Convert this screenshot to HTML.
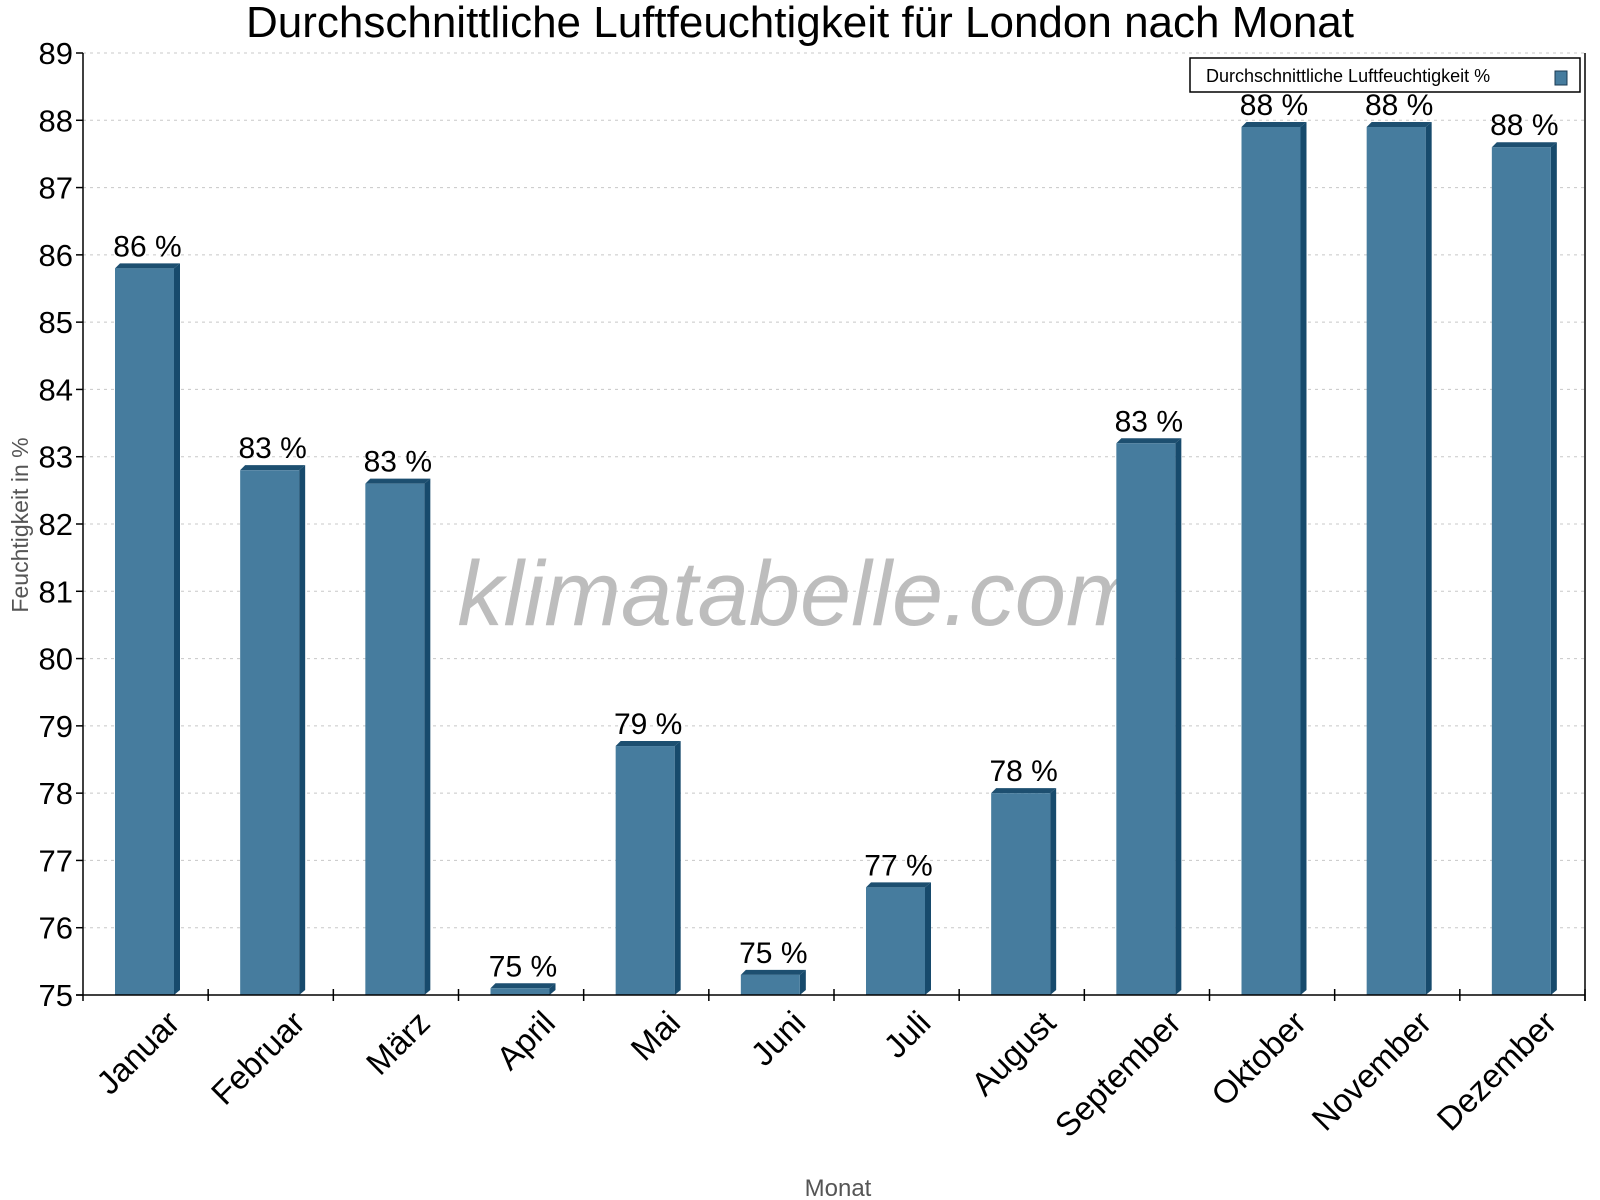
<!DOCTYPE html>
<html><head><meta charset="utf-8"><style>
body{margin:0;background:#fff;}
svg{display:block;font-family:"Liberation Sans",Arial,sans-serif;}
</style></head><body>
<svg id="chart" width="1600" height="1200" viewBox="0 0 1600 1200" xmlns="http://www.w3.org/2000/svg">
<text x="800" y="37" text-anchor="middle" font-size="44">Durchschnittliche Luftfeuchtigkeit für London nach Monat</text>
<g id="grid"></g>
<text x="800" y="625" text-anchor="middle" font-size="92" font-style="italic" fill="#bdbdbd">klimatabelle.com</text>
<g id="bars"></g>
<g id="axes"></g>
<text transform="translate(28,525) rotate(-90)" text-anchor="middle" font-size="23" fill="#555">Feuchtigkeit in %</text>
<text x="838" y="1196" text-anchor="middle" font-size="24" fill="#555">Monat</text>
<g>
<rect x="1190" y="58" width="390" height="34" fill="#fff" stroke="#000" stroke-width="1.5"/>
<text x="1206" y="82" font-size="18">Durchschnittliche Luftfeuchtigkeit %</text>
<rect x="1555" y="71" width="12" height="14" fill="#467c9e" stroke="#1b3a52"/>
</g>
</svg>
<script>
const categories=["Januar","Februar","März","April","Mai","Juni","Juli","August","September","Oktober","November","Dezember"];
const values=[85.8,82.8,82.6,75.1,78.7,75.3,76.6,78.0,83.2,87.9,87.9,87.6];
const valueLabels=["86 %","83 %","83 %","75 %","79 %","75 %","77 %","78 %","83 %","88 %","88 %","88 %"];
const yTicks=[75,76,77,78,79,80,81,82,83,84,85,86,87,88,89];
const NS="http://www.w3.org/2000/svg";
const X0=83,X1=1585,Y0=995,Y1=53,YMIN=75,YMAX=89;
const cw=(X1-X0)/categories.length;
function y(v){return Y0-(v-YMIN)/(YMAX-YMIN)*(Y0-Y1);}
function x(i){return X0+i*cw;}
function mk(tag,attrs,parent){const e=document.createElementNS(NS,tag);for(const k in attrs)e.setAttribute(k,attrs[k]);parent.appendChild(e);return e;}
const grid=document.getElementById('grid'),bars=document.getElementById('bars'),axes=document.getElementById('axes');
yTicks.forEach(t=>{
  const l=mk('line',{x1:X0,x2:X1,y1:y(t),y2:y(t),stroke:'#c8c8c8','stroke-dasharray':'3,4'},grid);
  
  
  const tk=mk('line',{x1:X0-7,x2:X0,y1:y(t),y2:y(t),stroke:'#000','stroke-width':1.5},axes);
  
  
  const tx=mk('text',{x:X0-10,y:y(t)+11,'text-anchor':'end','font-size':31},axes);
  tx.textContent=t;
  
  
});
values.forEach((v,i)=>{
  const bx=x(i)+32,bw=59,d=6,top=y(v);
  const g=mk('g',{},bars);
  
  
  mk('polygon',{points:`${bx+bw},${top} ${bx+bw+d},${top-5} ${bx+bw+d},${Y0-5} ${bx+bw},${Y0}`,fill:'#174a6c'},g);
  mk('polygon',{points:`${bx},${top} ${bx+5},${top-5} ${bx+bw+d},${top-5} ${bx+bw},${top}`,fill:'#1d4f70'},g);
  mk('rect',{x:bx,y:top,width:bw,height:Y0-top,fill:'#467c9e'},g);
  const lb=mk('text',{x:bx+bw/2+3,y:top-12,'text-anchor':'middle','font-size':30},bars);
  lb.textContent=valueLabels[i];
  
  
  const xl=mk('text',{'text-anchor':'end','font-size':33,transform:`translate(${x(i)+cw/2+36},${Y0+30}) rotate(-45)`},axes);
  xl.textContent=categories[i];
  
  
});
for(let i=1;i<=categories.length;i++){
  const tk=mk('line',{x1:x(i),x2:x(i),y1:Y0-6,y2:Y0+6,stroke:'#000','stroke-width':1.5},axes);
  
  
}
const ya=mk('line',{x1:X0,x2:X0,y1:Y1,y2:Y0+6,stroke:'#000','stroke-width':1.5},axes);


const xa=mk('line',{x1:X0-7,x2:X1,y1:Y0,y2:Y0,stroke:'#000','stroke-width':1.5},axes);


const ra=mk('line',{x1:X1,x2:X1,y1:Y1,y2:Y0+6,stroke:'#000','stroke-width':1.5},axes);


</script>
</body></html>
